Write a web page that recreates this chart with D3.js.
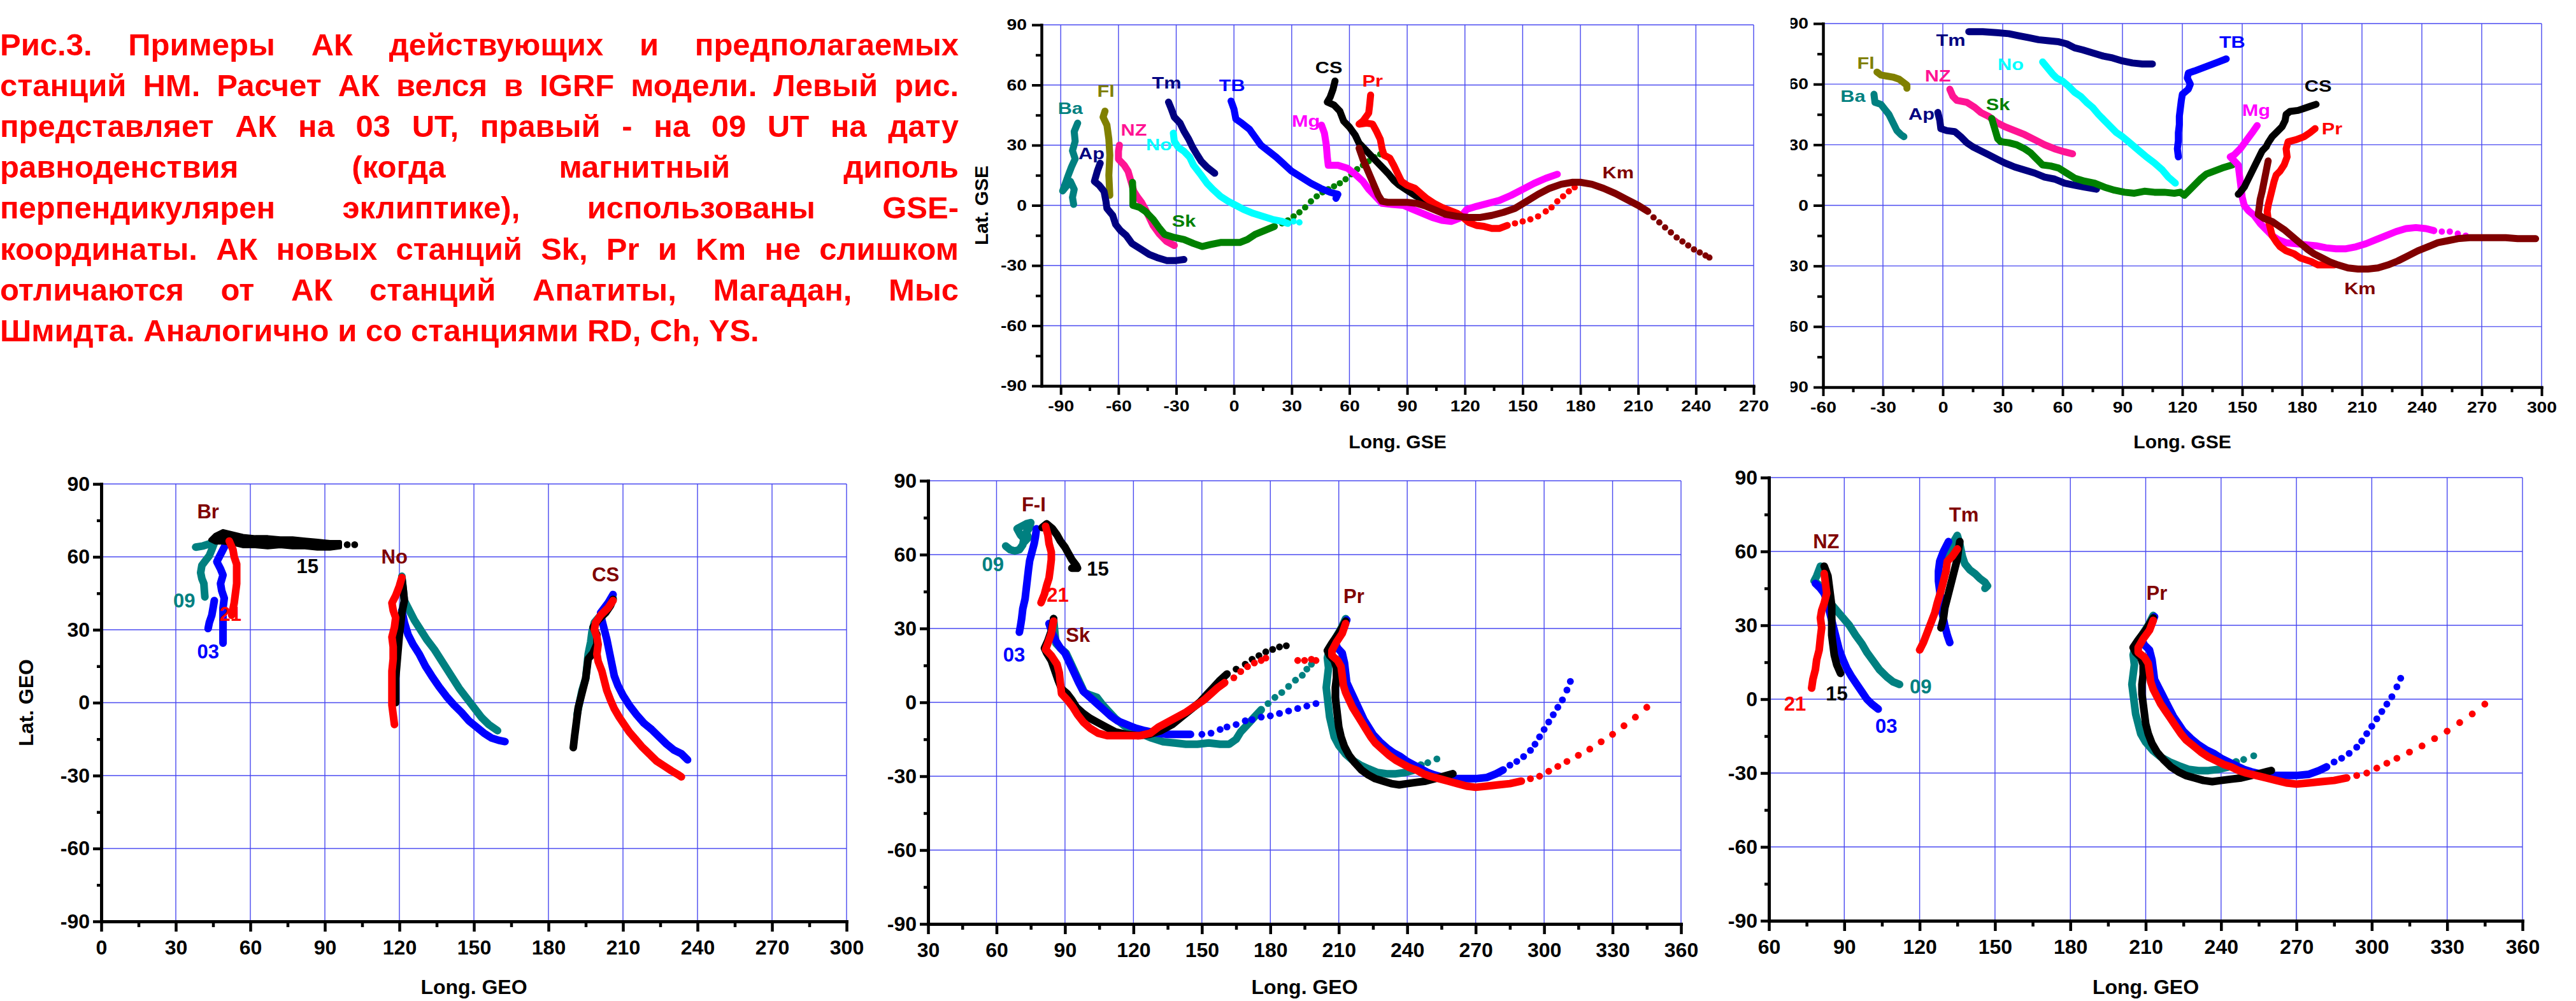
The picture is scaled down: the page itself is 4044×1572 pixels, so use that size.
<!DOCTYPE html>
<html>
<head>
<meta charset="utf-8">
<script src="https://cdn.jsdelivr.net/npm/d3@7"></script>
<style>
  body { margin: 0; background: #fff; }
  svg text { font-family: "Liberation Sans", Arial, sans-serif; font-weight: bold; }
  .wide { transform-box: fill-box; transform-origin: 50% 50%; transform: scaleX(1.18); }
  .wideR { transform-box: fill-box; transform-origin: 100% 50%; transform: scaleX(1.18); }
</style>
</head>
<body>
<svg id="fig" width="4044" height="1572"></svg>
<script>
// ---------- caption ----------
const paraLines = [
  'Рис.3. Примеры АК действующих и предполагаемых',
  'станций НМ. Расчет АК велся в IGRF модели. Левый рис.',
  'представляет АК на 03 UT, правый - на 09 UT на дату',
  'равноденствия (когда магнитный диполь',
  'перпендикулярен эклиптике), использованы GSE-',
  'координаты. АК новых станций Sk, Pr и Km не слишком',
  'отличаются от АК станций Апатиты, Магадан, Мыс',
  'Шмидта. Аналогично и со станциями RD, Ch, YS.'
];

const latTicks = [-90, -60, -30, 0, 30, 60, 90];

// ---------- top left panel: 03 UT, GSE (lon, lat) ----------
const ba03 = [[-81.2,41],[-83,36.8],[-82.5,32],[-83.9,27.2],[-82.5,23.2],[-84.4,19.2],[-86,15.2],[-87.8,10.4],[-89,7.2],[-85,12],[-83,8],[-83.9,4],[-83.3,0.5]];
const fl03 = [[-67,47],[-68,44],[-66,40],[-65,33],[-64.5,25],[-65,15],[-64.5,5]];
const ap03 = [[-69.5,21],[-71,17],[-72.5,12],[-70,10],[-67.5,7],[-66.5,2],[-66,-1.5],[-63,-5],[-61.5,-9.5],[-59,-12.5],[-56,-15],[-53,-19],[-48,-22],[-44,-24.5],[-40,-26],[-35,-27.5],[-30,-27.5],[-26,-27]];
const nz03 = [[-59.5,30],[-60,27],[-60,23],[-57,20],[-55,17],[-53.5,12],[-52,7],[-50,4],[-48,1.5],[-46,-2],[-44,-6],[-42,-10],[-39,-14],[-35,-18],[-31,-20]];
const sk03 = [[-52.7,11.5],[-52.5,6],[-52.5,0],[-49,-1],[-46,-3],[-42,-7],[-39,-11],[-36,-14.5],[-31,-16],[-26,-17],[-21,-19],[-16.5,-20.5],[-12,-19.5],[-7,-18.5],[-2,-18.5],[3,-18.5],[7,-17],[11,-14.5],[16,-12.5],[21,-10.5]];
const sk03Dots = [[25,-9],[28,-7.5],[31,-5.5],[34,-3.5],[37,-1],[40,2],[43,4.5],[46,6.5],[49,8],[52,9.5],[55,11],[58,13],[61,15.5],[64,18],[67,20],[70,22],[73,24],[76,25.5]];
const tm03 = [[-34,51.5],[-32.5,48],[-31,44],[-28,41],[-26,37],[-23.5,33],[-21.5,29],[-19,25],[-17,22],[-14,19],[-10,16]];
const no03 = [[-31.5,36],[-31,32],[-29,29],[-26,27],[-23,24],[-21,20],[-17,15],[-14,11],[-11,8],[-7,4.5],[-3,2],[1,0],[5,-2],[10,-4],[15,-5.5],[20,-7],[25,-8],[28,-9]];
const no03Dots = [[31,-8],[34,-8.5]];
const tb03 = [[-1.5,52],[0,48],[1,43],[4,41],[8,38],[11,34],[14,30],[18,27],[22,24],[26,20.5],[30,17],[35,14],[40,11],[45,8.5],[50,6.5],[54,5.5],[53,3.5]];
const mg03 = [[45.5,40],[47,36],[48,30],[48.5,24],[49,20],[54,20],[59,18.5],[63,15.5],[67,12],[70,8],[74,4],[77,1],[82,0.5],[88,0],[93,-2],[98,-4],[103,-6],[108,-7.5],[113,-8],[117,-6.5],[121,-2],[126,-0.5],[132,1],[138,2.5],[144,5],[150,8],[156,11],[162,13.5],[168,15.5]];
const cs03 = [[52.5,62],[51.5,58],[50,54],[48.5,51.5],[52,50],[55,47],[57,42],[60,39],[63,35],[65,31],[68,28],[71,25],[74,22],[77,19],[80,16],[83,12.5],[86,10],[90,7.5],[94,5],[98,3],[102,1.5]];
const pr03 = [[71,55],[70.5,50],[70,46],[67,42],[65,40.5],[69,41],[72,40.5],[74,37],[76,33],[77,28],[78,25],[81,23.5],[83,20],[85,16],[87,12],[90,10],[94,8.5],[97,6],[100,3.5],[104,1],[108,-1],[112,-2.5],[116,-4],[119,-6],[122,-8.5],[126,-10],[130,-10.5],[134,-11.5],[138,-11.5],[142,-10]];
const pr03Dots = [[146,-9],[150,-8],[154,-7],[158,-5.5],[162,-3],[165,-1],[168,2],[171,4.5],[174,7],[177,9]];
const km03 = [[65,28.5],[67,23],[69,18.5],[71,14],[73,9.5],[75,5],[77,2],[80,1.5],[85,1.5],[90,1.5],[95,1],[100,-0.5],[105,-2.5],[110,-4.5],[116,-5.5],[122,-6],[128,-6],[134,-5],[140,-3.5],[146,-1.5],[152,2],[158,5.5],[164,8.5],[170,10.5],[176,11.5],[180,11.5],[186,10.5],[192,8.5],[198,6],[204,3],[210,0],[215,-3]];
const km03Dots = [[218,-6],[221,-8.5],[224,-11],[227,-13.5],[230,-16],[233,-18],[236,-20],[239,-22],[242,-23.5],[245,-25],[247,-26]];
const labels03 = [['Ba',-85,48.3],['Fl',-66.5,57],['Ap',-74,26],['NZ',-52,37.6],['Tm',-35,61],['No',-39,30.4],['TB',-1,60],['Sk',-26,-7.7],['Mg',37.4,42],['CS',49.3,68.8],['Pr',72,62],['Km',199.6,16.3]];

// ---------- top right panel: 09 UT, GSE ----------
const ba09 = [[-34.5,55],[-34,51],[-31,50],[-29,47.5],[-27,45],[-26,43],[-24.5,40],[-23,37],[-21,35],[-19.5,34]];
const fl09 = [[-33,66],[-31,64.5],[-28,64],[-25,63.5],[-22,62.5],[-20,61],[-18,59.5],[-18,58]];
const ap09 = [[-2.5,46],[-1.5,42],[-1,38],[2,37],[6,36.5],[9,34],[12,31],[15,29],[19,27],[23,25],[27,23],[31,21],[36,19],[41,17.5],[46,16],[51,14],[56,13],[61,11],[66,10],[71,9],[77,8]];
const nz09 = [[3.5,57.5],[5,54],[7,52],[12,51],[16,48.5],[19,46],[23,44],[27,41],[31,39],[36,37],[41,35],[46,32.5],[51,30],[56,28],[61,26.5],[65,25.5]];
const sk09 = [[24.5,43],[26,38],[27.5,33],[29,31.5],[33,31],[37,30],[41,28],[44,26],[47,23],[50,20],[54,19.5],[58,18.5],[62,16],[66,13.5],[71,12],[76,11],[81,9],[86,7.5],[91,6.5],[96,6],[101,7],[106,6.5],[111,6.5],[116,6],[119,6.5],[121,5],[123,7],[126,10],[129,13],[132,15.5],[136,17],[140,18.5],[145,20]];
const tm09 = [[13,86],[20,86],[27,85.5],[33,85],[38,84],[43,83],[48,82],[53,81.5],[58,81],[62,80],[66,78],[70,77],[75,75.5],[80,74],[85,73],[90,71.5],[95,70.5],[100,70],[105,70]];
const no09 = [[50,71],[52.5,68],[55,65],[57,63],[60,61.5],[63,59],[66,56],[69,54],[72,51],[75,48.5],[78,45],[81,42],[84,39],[87,36],[90,34],[93,31.5],[96,29],[99,26.5],[102,24],[106,21],[110,17.5],[113,14],[116.5,11]];
const tb09 = [[118,24],[117.5,28],[118,32],[118,36],[118.5,40],[118.5,44],[119,48],[119.5,52],[120,55],[123,57.5],[124,60],[122.5,63],[123,65.5],[126,66.5],[130,68],[134,69.5],[138,71],[142,72.5]];
const mg09 = [[157.5,39.5],[155,36],[152,32],[149,28],[146,25],[144,24],[146,22],[148,20],[148.5,16],[149,12],[149.5,8],[150,4],[151,0],[153,-2.5],[156,-5],[159,-9],[162,-12],[165,-15],[168,-17],[172,-18.5],[177,-19],[182,-19.5],[187,-20],[192,-21],[197,-21.5],[202,-21.5],[207,-20.5],[212,-19],[217,-17],[222,-15],[227,-13],[232,-11.5],[237,-11],[242,-11.5],[246,-12.5]];
const mg09Dots = [[250,-13],[254,-13],[258,-14],[262,-15]];
const cs09 = [[187,50],[184,49],[181,48],[178,47],[174,46.5],[172,45],[171.5,42],[170,39],[167,36],[165,34],[163,31],[162,29],[160,27],[158.5,24],[157,21],[155.5,18],[154,15],[152.5,12],[151,9],[149,6.5],[148,5.5]];
const pr09 = [[186.5,38],[184,36],[181,34],[177,32.5],[173,31.5],[172,28],[172.5,24],[171,20],[169,17],[167,15],[166,12],[165,8],[164,4],[163,0],[162.5,-3],[163,-7],[164,-11],[165,-15],[167,-18],[169,-20.5],[172,-22.5],[176,-24],[179,-26],[182,-27],[185,-28],[188,-29.5],[192,-29.5],[196,-29.5]];
const km09 = [[163,22],[162,17],[161,12],[160,7],[159,3],[158.5,-1],[158,-4.5],[161,-6.5],[165,-8],[168,-10],[171,-12],[174,-14.5],[177,-17],[180,-19.5],[183,-22],[186,-24],[190,-26],[194,-28],[198,-29.5],[203,-31],[208,-31.5],[213,-31.5],[218,-31],[223,-29.5],[228,-27.5],[233,-25],[238,-22.5],[243,-20.5],[248,-18.5],[253,-17.5],[258,-16.5],[264,-16],[270,-16],[276,-16],[282,-16],[288,-16.5],[293,-16.5],[297,-16.5]];
const labels09 = [['Tm',4,81.7],['TB',145,81],['Fl',-38.6,70.6],['No',34,70],['NZ',-2.5,64.3],['Ba',-45,54],['Sk',27.6,50],['Ap',-10.7,45.2],['CS',188,59],['Mg',157,47.3],['Pr',195,38],['Km',209,-41]];

// ---------- bottom panels: GEO, UT 03 / 09 / 15 / 21 ----------
// Br, No, CS
const brU09 = [[38,64],[41,64.5],[44,65.5],[46,67],[44.5,63],[43.5,60.5],[42,58.5],[40.5,56.5],[40,53.5],[40.5,51],[41.3,49],[41.5,46],[41.7,43.5]];
const brU03a = [[50,65],[48,61],[46.5,58],[48,55],[49,52.5],[48,49],[48.5,46],[49.5,43],[49,39],[49,35],[49,31],[49,27],[49,24.5]];
const brU03b = [[45.5,42],[45,39],[44.5,36],[43.5,33],[43,30.5]];
// outline of the wide black 15 UT band (upper edge, then lower edge back)
const brU15 = [[44,67],[46,69],[49,70.5],[53,69.5],[57,68.5],[62,68],[67,68],[72,67.5],[77,67.5],[82,67],[87,66.5],[92,66],[96,66],[96,64],[92,63.5],[87,63.5],[82,64],[77,64],[72,64.5],[67,64],[62,64.5],[57,64.5],[53,65.5],[49,66],[46,66]];
const brU15Dots = [[99,65],[102,65]];
const brU21 = [[51.5,66.5],[53,63],[53.5,60],[54.5,57],[54.5,53],[54.5,49],[54,45],[53.5,41],[53,38.5],[52.5,36]];
const noU09 = [[121,52],[121.5,47],[122,42],[124,38],[126,34],[128.5,30],[131,26],[134,22],[136.5,18],[139,14],[141.5,10],[144,6],[147,2],[150,-2],[153,-6],[156,-9],[159.5,-11.5]];
const noU03 = [[121,38],[122,33],[123.5,28],[125.5,24],[128,20],[130.5,15],[133,11],[136,6.5],[139,2.5],[142,-1],[145,-4],[148,-7.5],[151,-10],[154,-12.5],[157,-14.5],[160,-15.5],[162.5,-16]];
const noU15 = [[121,51],[121.5,47],[122,42],[121,37],[120.5,32],[120,28],[119.5,22],[119,16],[118.5,10],[118.5,4],[118.5,0]];
const noU21 = [[121,51.5],[120,48],[118.5,44],[117,41],[117.5,38],[118.5,35],[118,31],[117,27],[117.5,23],[117.5,18],[117,13],[117,8],[117,3],[117,-1],[117.5,-5],[118,-9]];
const csU09 = [[191.5,-5],[192.5,0],[193.5,5],[195,10],[195.5,15],[196,20],[197,25],[197.5,29],[198.5,33],[201,36],[204,39],[206,43]];
const csU03 = [[206,44.5],[204,41],[201,37],[201.5,34],[202.5,30],[203.5,26],[204.5,21],[205.5,16],[206.5,11],[208,7],[210,3],[212.5,-1],[215.5,-5],[218.5,-8.5],[221.5,-11],[224.5,-14],[227.5,-17],[230.5,-19.5],[233.5,-21],[236,-23.5]];
const csU15 = [[190,-18.5],[190.5,-14],[191,-10],[191.5,-6],[192,-2],[193,2],[194,6],[195,10],[195.5,14],[196,18],[198,20.5],[199.5,24],[199.5,28],[198,31],[200,34],[203,37],[205,40],[206,42.5]];
const csU21 = [[206,42],[204,39],[201,36],[199,33],[198.5,30],[199.5,27],[200,24],[199.5,20],[200,17],[201.5,13],[202.5,9],[203.5,5],[205,1],[206.5,-2.5],[208.5,-6],[210.5,-9],[212.5,-12],[215,-15],[217.5,-18],[220.5,-21],[223.5,-24],[226.5,-26],[229.5,-28],[232,-29.5],[233.5,-30.5]];
const labelsGeo1 = [['Br',43,78.7],['No',118,60],['CS',203,52.7],['15',83,56],['09',33.4,41.8],['21',52,36.3],['03',43,21]];

// F-I, Sk, Pr
const fiU09 = [[64,63.5],[66,62],[68,61.5],[70,62],[71.5,64],[72,66.5],[70.5,68],[69,70.5],[71,71.5],[73,72.5],[75,73],[74.5,71],[73,69],[74,67],[72,65]];
const fiU03 = [[77.5,70.5],[77,67],[76.5,64.5],[75.5,61],[74.5,57.5],[74,54],[73.5,50],[73,46],[72.5,42],[71.5,38],[71,34],[70.5,31],[70,28.5]];
const fiU15 = [[80,71],[82,72.5],[84.5,70.5],[86.5,68],[88,65.5],[90,63],[91.5,60.5],[93,58],[95,55.5],[95.5,54.5],[93,54.5]];
const fiU21 = [[81.5,71.5],[82.5,68],[83,64.5],[84,61],[84,58],[83.5,54],[83,50.5],[82,47.5],[81,44],[79.5,40.5]];
const skU09 = [[85,34],[85.5,29],[86,24],[88,22],[90.5,20],[92.5,16],[94.5,12],[96.5,8],[98.5,4],[101,3],[104,2],[106.5,-1],[109,-3.5],[112,-6.5],[116,-9.5],[120,-11.5],[124,-13],[128,-14.5],[133,-16],[138,-16.5],[143,-17],[148,-17],[153,-16.5],[158,-17],[162,-17],[165,-15],[167,-12],[170,-9],[173,-6],[176,-3]];
const skU09Dots = [[179,-0.5],[182,2],[185,4],[188,6.5],[191,9],[194,11],[196,13.5],[198,15.5]];
const skU03 = [[83,32],[84.5,28],[86,25],[88,22],[90,20],[92,16],[94,12],[96,8],[98,4.5],[101,2],[104,-0.5],[107,-3],[110,-5.5],[113,-7.5],[117,-9],[121,-10.5],[125,-11.5],[130,-12.5],[135,-13],[140,-13],[145,-13]];
const skU03Dots = [[150,-13],[154,-12.5],[158,-11],[161,-10],[165,-9],[169,-7.5],[172,-7],[176,-6],[180,-5.5],[184,-4.5],[188,-3.5],[192,-2.5],[196,-1.5],[200,-0.5]];
const skU15 = [[85,34],[84,29],[82.5,25],[81,22],[82,20],[84,17],[85.5,13],[87,9],[88.5,5.5],[91,3.5],[93,1],[95,-2],[98,-4.5],[101,-6.5],[104,-8],[108,-10],[112,-12],[117,-13],[122,-13.5],[127,-13],[132,-11.5],[137,-9],[141,-6],[145,-3],[149,0],[152,3],[155,6],[158,9],[161,11.5]];
const skU15Dots = [[165,13.5],[169,15.5],[172,17.5],[175,19],[178,20.5],[181,21.5],[184,22.5],[187,23]];
const skU21 = [[85,33],[84,28],[82.5,24],[81.5,21.5],[84,19],[86.5,15.5],[87.5,12],[88,7.5],[88.5,3.5],[91,1],[93.5,-2],[95.5,-5],[98,-8],[101,-10.5],[104.5,-12.5],[108.5,-13.5],[113,-13.5],[118,-13.5],[123,-13.5],[127.5,-12.5],[131,-10],[135,-8],[139,-6],[143,-4],[147,-1.5],[151,1],[154,3.5],[157,6],[160,8]];
const skU21Dots = [[164,10],[167,12.5],[170,14.5],[173,16],[176,17],[178,18],[192,17],[195,17],[198,17.5],[200,17]];
const prU09 = [[213,34],[211,30],[208.5,26],[206,22],[205,18],[205.5,14],[205,10],[204.5,6],[205,2],[205.5,-2],[206,-6],[207,-10],[208,-14],[210,-17.5],[213,-21],[216,-23.5],[219.5,-25.5],[223,-27],[227,-28.5],[231,-29],[235,-29],[239,-28.5],[243,-27.5],[246,-25.5]];
const prU09Dots = [[249,-24.5],[253,-23]];
const prU03 = [[213.5,33.5],[212,30],[210,27],[208.5,24],[209.5,22],[211.5,20],[212.5,16],[213,12],[213.5,8],[215,5],[216.5,2],[218,-1],[219.5,-4],[221,-7],[223,-10],[225,-13],[228,-16],[231,-18.5],[234,-20.5],[237,-22],[240,-24],[243,-25.5],[246,-27],[249,-28.5],[252,-29.5],[256,-30.5],[260,-31],[265,-31],[270,-31],[275,-30.5],[279,-29],[282,-27.5]];
const prU03Dots = [[285,-25.5],[288,-24],[291,-22],[294,-19.5],[296,-17],[298,-14],[300,-11],[302,-8],[304,-5],[306,-2],[308,1],[310,5],[311.5,8.5]];
const prU15 = [[213,33],[210,28],[207,24],[205,21],[206,19],[208,17],[209,14],[209,10],[208.5,6],[208.5,2],[209,-2],[209.5,-6],[210,-10],[211,-14],[212.5,-18],[214.5,-21.5],[217,-24.5],[220,-27.5],[223,-29.5],[226,-31],[229.5,-32],[233,-33],[236.5,-33.5],[240,-33],[244,-32.5],[248,-32],[252,-31],[256,-30],[260,-29]];
const prU21 = [[213,32],[211.5,28],[209,24.5],[207,21],[207,19],[209.5,17],[211,14.5],[211.5,11],[212,7],[213,4],[214.5,1],[216,-2],[218,-5],[220,-8],[222,-11],[224,-14],[226,-16.5],[229,-19],[232,-21.5],[235,-23.5],[238,-25],[241,-26.5],[244,-27.5],[247,-29],[250,-30],[254,-31],[258,-32],[262,-33],[266,-34],[270,-34.5],[275,-34],[280,-33.5],[285,-33],[290,-32]];
const prU21Dots = [[294,-31],[298,-30],[302,-28],[306,-26],[310,-24],[315,-21.5],[320,-19],[325,-16],[330,-13],[335,-9.5],[340,-6],[345,-2]];
const labelsGeo2 = [['F-I',76.3,80.4],['Sk',95.7,27.2],['Pr',216.6,43],['09',58.4,56],['15',104.4,54.3],['21',86.8,43.5],['03',67.7,19.3]];

// NZ, Tm (+ Pr again)
const nzU09 = [[80.5,54],[79,50],[78,48],[80.5,46],[82.5,42],[84.5,39],[87,36],[89.5,33],[92,30],[94.5,26],[97,22.5],[99,19],[101.5,15.5],[104,12],[107,9],[109.5,7],[112,6]];
const nzU03 = [[78.5,47],[80.5,45],[82,43],[83,40],[84,36],[85,32],[86,28],[87,24],[88,20],[89.5,16],[91,12.5],[93,9],[95,6],[97,3],[99,0],[101,-2],[103.5,-4]];
const nzU15 = [[82,54],[83.5,50],[84,46],[84.5,42],[85,38],[85,34],[85,30],[85,26],[85.5,22],[86,18],[87,14],[88.5,10.5]];
const nzU21 = [[77,4.5],[77.5,8],[78.5,12],[79,16],[80,20],[80.5,25],[81,29],[80.5,33],[81,36],[82,39],[83,43],[82.5,47],[82,51]];
const tmU09 = [[130,56],[131.5,60],[133,63],[135,66.5],[136,63],[137,58],[138,55],[140,52.5],[142,51],[144,49],[146,47.5],[147,46],[146,45]];
const tmU03 = [[132,23],[131,26],[130,30],[129,35],[128.5,40],[128,44],[127.5,48],[127.5,52],[128,56],[129.5,60],[131.5,64]];
const tmU15 = [[128.5,29],[129.5,33],[130,37],[131,41],[132,45],[133,49],[134,53],[135,57],[135.5,61],[136,64]];
const tmU21 = [[120,20],[121.5,23],[123,27],[124.5,31],[126,35],[127,39],[128.5,44],[129.5,48],[130.5,52],[131,56],[133,58],[135,61]];
const labelsGeo3 = [['NZ',82.8,64],['Tm',137.6,75],['Pr',214.4,43],['21',70.4,-2],['15',87,2.2],['03',106.7,-11],['09',120.4,5]];

// ---------- colours ----------
const col = {
  Ba: '#008080', Fl: '#808000', Ap: '#000080', NZ: '#ff1493', Tm: '#000080', No: '#00ffff',
  TB: '#0000ff', Sk: '#008000', Mg: '#ff00ff', CS: '#000000', Pr: '#ff0000', Km: '#800000',
  '03': '#0000ff', '09': '#008080', '15': '#000000', '21': '#ff0000'
};
const stationGeo = '#800000';
const gridColor = '#4848f0';

const svg = d3.select('#fig');

// ---------- caption, justified ----------
function drawCaption() {
  const L = 0, R = 1505, fs = 49, base = 87, step = 64.1;
  const g = svg.append('g').attr('fill', '#ff0000').attr('font-size', fs);
  paraLines.forEach((ln, i) => {
    const words = ln.split(' ');
    const ts = words.map(w => g.append('text').attr('y', base + i * step).text(w));
    const widths = ts.map(t => t.node().getComputedTextLength());
    const last = i === paraLines.length - 1;
    const gap = last ? fs * 0.28 : (R - L - d3.sum(widths)) / (words.length - 1);
    let x = L;
    ts.forEach((t, j) => { t.attr('x', x); x += widths[j] + gap; });
  });
}

function drawChart(c) {
  const g = svg.append('g');
  const x = d3.scaleLinear().domain(c.lon).range([c.left, c.right]);
  const y = d3.scaleLinear().domain([-90, 90]).range([c.bottom, c.top]);
  const majX = d3.range(Math.ceil(c.lon[0] / 30) * 30, c.lon[1] + 1, 30);
  const minX = d3.range(Math.ceil(c.lon[0] / 15) * 15, c.lon[1] + 1, 15).filter(v => v % 30 !== 0);
  const minY = d3.range(-75, 90, 30);

  // grid
  g.append('g').selectAll('line').data(majX.filter(v => v > c.lon[0])).join('line')
    .attr('x1', d => x(d)).attr('x2', d => x(d)).attr('y1', c.top).attr('y2', c.bottom)
    .attr('stroke', gridColor).attr('stroke-width', 1.4);
  g.append('g').selectAll('line').data(latTicks.filter(v => v > -90)).join('line')
    .attr('x1', c.left).attr('x2', c.right).attr('y1', d => y(d)).attr('y2', d => y(d))
    .attr('stroke', gridColor).attr('stroke-width', 1.4);

  // curves
  const line = d3.line().x(d => x(d[0])).y(d => y(d[1]));
  c.series.forEach(s => {
    g.append('path').datum(s.pts)
      .attr('d', d => line(d) + (s.band ? 'Z' : ''))
      .attr('fill', s.band ? s.color : 'none').attr('stroke', s.color)
      .attr('stroke-width', s.band ? c.sw * 0.6 : c.sw)
      .attr('stroke-linecap', 'round').attr('stroke-linejoin', 'round');
    if (s.dots) {
      g.append('g').selectAll('circle').data(s.dots).join('circle')
        .attr('cx', d => x(d[0])).attr('cy', d => y(d[1])).attr('r', c.sw * 0.45)
        .attr('fill', s.color);
    }
  });

  // axes
  const ax = g.append('g').attr('transform', `translate(0,${c.bottom})`)
    .call(d3.axisBottom(x).tickValues(majX).tickFormat(d => String(d))
      .tickSize(c.xtick).tickSizeOuter(0).tickPadding(c.xpad));
  const axm = g.append('g').attr('transform', `translate(0,${c.bottom})`)
    .call(d3.axisBottom(x).tickValues(minX).tickFormat('').tickSize(c.xminor).tickSizeOuter(0));
  axm.select('.domain').remove();
  const ay = g.append('g').attr('transform', `translate(${c.left},0)`)
    .call(d3.axisLeft(y).tickValues(latTicks).tickFormat(d => String(d))
      .tickSize(c.ytick).tickSizeOuter(0).tickPadding(c.ypad));
  const aym = g.append('g').attr('transform', `translate(${c.left},0)`)
    .call(d3.axisLeft(y).tickValues(minY).tickFormat('').tickSize(c.yminor).tickSizeOuter(0));
  aym.select('.domain').remove();

  [ax, axm, ay, aym].forEach(a => {
    a.attr('font-family', null).attr('font-size', c.tickFont);
    a.select('.domain').attr('stroke', '#000').attr('stroke-width', c.axisW).attr('stroke-linecap', 'square');
    a.selectAll('.tick line').attr('stroke', '#000').attr('stroke-width', c.axisW - 0.5);
    a.selectAll('.tick text').attr('fill', '#000');
  });
  if (c.wide) {
    ax.selectAll('.tick text').attr('class', 'wide');
    ay.selectAll('.tick text').attr('class', 'wideR');
  }
  if (c.clipLeft) {
    // the left part of this panel's y labels is hidden in the source figure
    const id = 'clip' + Math.round(c.left);
    svg.append('clipPath').attr('id', id).append('rect')
      .attr('x', c.clipLeft - c.left).attr('y', 0)
      .attr('width', c.left - c.clipLeft + 50).attr('height', c.bottom + 60);
    ay.attr('clip-path', `url(#${id})`);
  }

  // station / UT labels
  g.append('g').selectAll('text').data(c.labels).join('text')
    .attr('x', d => x(d[1])).attr('y', d => y(d[2]))
    .attr('text-anchor', 'middle').attr('dominant-baseline', 'central')
    .attr('font-size', c.labelSize)
    .attr('class', c.wide ? 'wide' : null)
    .attr('fill', d => c.labelColor(d[0]))
    .text(d => d[0]);

  // titles
  g.append('text').attr('x', (c.left + c.right) / 2).attr('y', c.xTitleY)
    .attr('text-anchor', 'middle').attr('font-size', c.titleSize).text(c.xTitle);
  if (c.yTitle) {
    g.append('text').attr('transform', `translate(${c.yTitleX},${(c.top + c.bottom) / 2}) rotate(-90)`)
      .attr('text-anchor', 'middle').attr('font-size', c.titleSize).text(c.yTitle);
  }
}

const topStyle = { sw: 11, labelSize: 26, tickFont: 24, wide: true, xtick: 14, xminor: 8, ytick: 15, yminor: 9,
  xpad: 9, ypad: 8, axisW: 4.5, titleSize: 30, xTitleY: 704, labelColor: t => col[t] };
const botStyle = { sw: 12, labelSize: 31, tickFont: 32, wide: false, xtick: 16, xminor: 9, ytick: 13, yminor: 7,
  xpad: 13, ypad: 5, axisW: 5, titleSize: 32, xTitleY: 1561,
  labelColor: t => (col[t] && /^\d/.test(t)) ? col[t] : stationGeo };

drawCaption();

drawChart(Object.assign({}, topStyle, {
  left: 1635, right: 2753, top: 39, bottom: 606, lon: [-100, 270],
  xTitle: 'Long. GSE', yTitle: 'Lat. GSE', yTitleX: 1551,
  series: [
    { pts: ba03, color: col.Ba }, { pts: fl03, color: col.Fl }, { pts: ap03, color: col.Ap },
    { pts: nz03, color: col.NZ }, { pts: sk03, color: col.Sk, dots: sk03Dots },
    { pts: tm03, color: col.Tm }, { pts: no03, color: col.No, dots: no03Dots },
    { pts: tb03, color: col.TB }, { pts: mg03, color: col.Mg }, { pts: cs03, color: col.CS },
    { pts: pr03, color: col.Pr, dots: pr03Dots }, { pts: km03, color: col.Km, dots: km03Dots }
  ],
  labels: labels03
}));

drawChart(Object.assign({}, topStyle, {
  left: 2862, right: 3990, top: 37, bottom: 608, lon: [-60, 300],
  xTitle: 'Long. GSE', clipLeft: 2811,
  series: [
    { pts: ba09, color: col.Ba }, { pts: fl09, color: col.Fl }, { pts: ap09, color: col.Ap },
    { pts: nz09, color: col.NZ }, { pts: sk09, color: col.Sk }, { pts: tm09, color: col.Tm },
    { pts: no09, color: col.No }, { pts: tb09, color: col.TB }, { pts: mg09, color: col.Mg, dots: mg09Dots },
    { pts: cs09, color: col.CS }, { pts: pr09, color: col.Pr }, { pts: km09, color: col.Km }
  ],
  labels: labels09
}));

drawChart(Object.assign({}, botStyle, {
  left: 159, right: 1329, top: 760, bottom: 1447, lon: [0, 300],
  xTitle: 'Long. GEO', yTitle: 'Lat. GEO', yTitleX: 52,
  series: [
    { pts: brU09, color: col['09'] }, { pts: brU03a, color: col['03'] }, { pts: brU03b, color: col['03'] },
    { pts: brU15, color: col['15'], dots: brU15Dots, band: true }, { pts: brU21, color: col['21'] },
    { pts: noU09, color: col['09'] }, { pts: noU03, color: col['03'] },
    { pts: noU15, color: col['15'] }, { pts: noU21, color: col['21'] },
    { pts: csU09, color: col['09'] }, { pts: csU03, color: col['03'] },
    { pts: csU15, color: col['15'] }, { pts: csU21, color: col['21'] }
  ],
  labels: labelsGeo1
}));

drawChart(Object.assign({}, botStyle, {
  left: 1457, right: 2639, top: 755, bottom: 1451, lon: [30, 360],
  xTitle: 'Long. GEO',
  series: [
    { pts: fiU09, color: col['09'] }, { pts: fiU03, color: col['03'] },
    { pts: fiU15, color: col['15'] }, { pts: fiU21, color: col['21'] },
    { pts: skU09, color: col['09'], dots: skU09Dots }, { pts: skU03, color: col['03'], dots: skU03Dots },
    { pts: skU15, color: col['15'], dots: skU15Dots }, { pts: skU21, color: col['21'], dots: skU21Dots },
    { pts: prU09, color: col['09'], dots: prU09Dots }, { pts: prU03, color: col['03'], dots: prU03Dots },
    { pts: prU15, color: col['15'] }, { pts: prU21, color: col['21'], dots: prU21Dots }
  ],
  labels: labelsGeo2
}));

drawChart(Object.assign({}, botStyle, {
  left: 2777, right: 3960, top: 750, bottom: 1446, lon: [60, 360],
  xTitle: 'Long. GEO',
  series: [
    { pts: nzU09, color: col['09'] }, { pts: nzU03, color: col['03'] },
    { pts: nzU15, color: col['15'] }, { pts: nzU21, color: col['21'] },
    { pts: tmU09, color: col['09'] }, { pts: tmU03, color: col['03'] },
    { pts: tmU15, color: col['15'] }, { pts: tmU21, color: col['21'] },
    { pts: prU09, color: col['09'], dots: prU09Dots }, { pts: prU03, color: col['03'], dots: prU03Dots },
    { pts: prU15, color: col['15'] }, { pts: prU21, color: col['21'], dots: prU21Dots }
  ],
  labels: labelsGeo3
}));
</script>
</body>
</html>
